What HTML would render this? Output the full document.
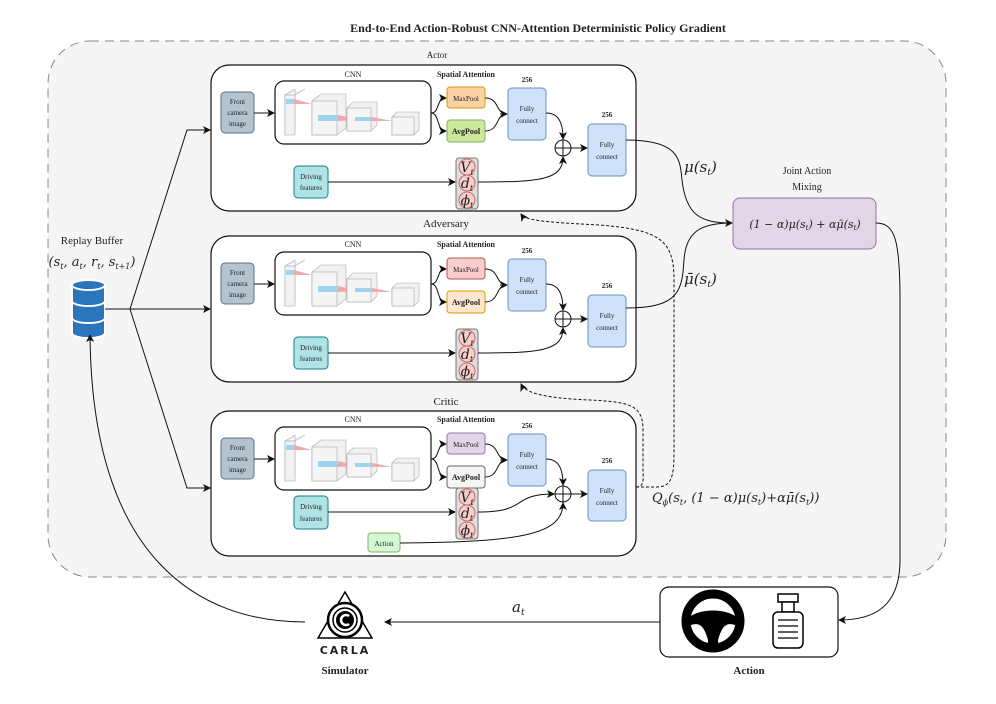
<!DOCTYPE html>
<html><head><meta charset="utf-8"><style>
html,body{margin:0;padding:0;background:#fff;}
svg{display:block;}
text{font-family:"Liberation Serif",serif;fill:#222;}
.s{font-size:7px;}
.m{font-family:"DejaVu Serif","Liberation Serif",serif;font-style:italic;}
</style></head><body>
<svg width="996" height="704" viewBox="0 0 996 704" xmlns="http://www.w3.org/2000/svg">
<defs>
<marker id="ar" markerWidth="8" markerHeight="8" refX="7" refY="4" orient="auto" markerUnits="userSpaceOnUse"><path d="M0,0 L8,4 L0,8 L2,4 Z" fill="#111"/></marker>
<g id="cnn">
  <rect x="275" y="81" width="156" height="63" rx="9" fill="#fff" stroke="#111" stroke-width="1.2"/>
  <path d="M285,95 l10,-6 v40 l-10,6 z M285,95 h10 l10,-6" fill="#eee" stroke="#aaa" stroke-width="0.6"/>
  <rect x="285" y="95" width="10" height="40" fill="#f2f2f2" stroke="#aaa" stroke-width="0.6"/>
  <rect x="286" y="99" width="8" height="5" fill="#9fd3f0"/>
  <path d="M294,99 L312,104 L294,104 Z" fill="#f2a9ae"/>
  <path d="M312,101 l9,-7 h25 v34 l-9,7 h-25 z" fill="#f1f1f1" stroke="#aaa" stroke-width="0.6"/>
  <rect x="312" y="101" width="25" height="34" fill="#f5f5f5" stroke="#aaa" stroke-width="0.6"/>
  <rect x="318" y="115" width="20" height="6" fill="#9fd3f0"/>
  <path d="M338,115 L360,120 L338,121 Z" fill="#f2a9ae"/>
  <path d="M347,108 l6,-6 h24 v23 l-6,6 h-24 z" fill="#f1f1f1" stroke="#aaa" stroke-width="0.6"/>
  <rect x="347" y="108" width="24" height="23" fill="#f5f5f5" stroke="#aaa" stroke-width="0.6"/>
  <rect x="355" y="117" width="17" height="4" fill="#9fd3f0"/>
  <path d="M372,117 L392,121 L372,121 Z" fill="#f2a9ae"/>
  <path d="M392,117 l5,-5 h22 v18 l-5,5 h-22 z" fill="#f1f1f1" stroke="#aaa" stroke-width="0.6"/>
  <rect x="392" y="117" width="22" height="18" fill="#f5f5f5" stroke="#aaa" stroke-width="0.6"/>
</g>
<g id="vdp">
  <rect x="456" y="0" width="22" height="51" rx="3" fill="#ddd" stroke="#777"/>
  <circle cx="467" cy="9" r="8" fill="#f8cecc" stroke="#b85450" stroke-width="0.8"/>
  <circle cx="467" cy="25" r="8" fill="#f8cecc" stroke="#b85450" stroke-width="0.8"/>
  <circle cx="467" cy="42" r="8" fill="#f8cecc" stroke="#b85450" stroke-width="0.8"/>
</g>
</defs>

<rect x="48" y="41" width="898" height="536" rx="42" fill="#f5f5f5" stroke="#888" stroke-dasharray="9,6" stroke-width="1"/>
<text x="538" y="32" text-anchor="middle" font-size="12" font-weight="bold">End-to-End Action-Robust CNN-Attention Deterministic Policy Gradient</text>

<!-- panels -->
<g id="actor">
<text x="437" y="58" text-anchor="middle" font-size="9">Actor</text>
<rect x="211" y="65" width="425" height="146" rx="18" fill="#fff" stroke="#111" stroke-width="1.2"/>
</g>
<text x="446" y="227" text-anchor="middle" font-size="11">Adversary</text>
<rect x="211" y="236" width="425" height="146" rx="18" fill="#fff" stroke="#111" stroke-width="1.2"/>
<text x="446" y="405" text-anchor="middle" font-size="11">Critic</text>
<rect x="211" y="411" width="425" height="145" rx="18" fill="#fff" stroke="#111" stroke-width="1.2"/>

<!-- common panel contents at offsets -->
<g>
<!-- ACTOR -->
<text x="353" y="77" text-anchor="middle" font-size="8">CNN</text>
<text x="466" y="77" text-anchor="middle" font-size="8" font-weight="bold">Spatial Attention</text>
<rect x="221" y="92" width="33" height="41" rx="4" fill="#b3c3d0" stroke="#5c7185"/>
<text x="237.5" y="104" text-anchor="middle" class="s">Front</text><text x="237.5" y="115" text-anchor="middle" class="s">camera</text><text x="237.5" y="126" text-anchor="middle" class="s">image</text>
<line x1="254" y1="113" x2="274" y2="113" stroke="#111" marker-end="url(#ar)"/>
<use href="#cnn"/>
<path d="M431,113 C440,113 436,98 446,98" fill="none" stroke="#111" marker-end="url(#ar)"/>
<path d="M431,113 C440,113 436,131 446,131" fill="none" stroke="#111" marker-end="url(#ar)"/>
<rect x="447" y="87" width="38" height="21" rx="3" fill="#fdd1a6" stroke="#d79b00"/>
<text x="466" y="101" text-anchor="middle" class="s">MaxPool</text>
<rect x="447" y="120" width="38" height="22" rx="3" fill="#cde79b" stroke="#82b366"/>
<text x="466" y="134" text-anchor="middle" font-size="8" font-weight="bold">AvgPool</text>
<path d="M485,98 C500,98 495,114 507,114 M485,131 C500,131 495,114 507,114" fill="none" stroke="#111"/>
<line x1="500" y1="114" x2="507" y2="114" stroke="#111" marker-end="url(#ar)"/>
<text x="527" y="82" text-anchor="middle" font-size="7" font-weight="bold">256</text>
<rect x="508" y="88" width="38" height="52" rx="4" fill="#cfe2fa" stroke="#6c8ebf"/>
<text x="527" y="111" text-anchor="middle" class="s">Fully</text><text x="527" y="123" text-anchor="middle" class="s">connect</text>
<path d="M546,113 C560,113 563,125 563,139" fill="none" stroke="#111" marker-end="url(#ar)"/>
<circle cx="563" cy="148" r="8" fill="#fff" stroke="#111"/>
<path d="M555,148 h16 M563,140 v16" stroke="#111"/>
<line x1="571" y1="148" x2="587" y2="148" stroke="#111" marker-end="url(#ar)"/>
<text x="607" y="117" text-anchor="middle" font-size="7" font-weight="bold">256</text>
<rect x="588" y="124" width="38" height="52" rx="4" fill="#cfe2fa" stroke="#6c8ebf"/>
<text x="607" y="147" text-anchor="middle" class="s">Fully</text><text x="607" y="159" text-anchor="middle" class="s">connect</text>
<rect x="294" y="166" width="34" height="32" rx="4" fill="#b0e3e6" stroke="#0e8088"/>
<text x="311" y="179" text-anchor="middle" class="s">Driving</text><text x="311" y="190" text-anchor="middle" class="s">features</text>
<line x1="328" y1="182" x2="455" y2="182" stroke="#111" marker-end="url(#ar)"/>
<use href="#vdp" y="158"/>
<text x="467" y="172" text-anchor="middle" font-size="14" class="m">V<tspan font-size="8" dy="3">t</tspan></text>
<text x="467" y="188" text-anchor="middle" font-size="14" class="m">d<tspan font-size="8" dy="3">t</tspan></text>
<text x="467" y="205" text-anchor="middle" font-size="14" class="m">ϕ<tspan font-size="8" dy="3">t</tspan></text>
<path d="M478,182 C540,182 563,180 563,157" fill="none" stroke="#111" marker-end="url(#ar)"/>
</g>

<g>
<!-- ADVERSARY -->
<text x="353" y="247" text-anchor="middle" font-size="8">CNN</text>
<text x="466" y="247" text-anchor="middle" font-size="8" font-weight="bold">Spatial Attention</text>
<rect x="221" y="263" width="33" height="41" rx="4" fill="#b3c3d0" stroke="#5c7185"/>
<text x="237.5" y="275" text-anchor="middle" class="s">Front</text><text x="237.5" y="286" text-anchor="middle" class="s">camera</text><text x="237.5" y="297" text-anchor="middle" class="s">image</text>
<line x1="254" y1="284" x2="274" y2="284" stroke="#111" marker-end="url(#ar)"/>
<use href="#cnn" y="171"/>
<path d="M431,284 C440,284 436,269 446,269" fill="none" stroke="#111" marker-end="url(#ar)"/>
<path d="M431,284 C440,284 436,302 446,302" fill="none" stroke="#111" marker-end="url(#ar)"/>
<rect x="447" y="258" width="38" height="21" rx="3" fill="#f8cecc" stroke="#b85450"/>
<text x="466" y="272" text-anchor="middle" class="s">MaxPool</text>
<rect x="447" y="291" width="38" height="22" rx="3" fill="#ffe6cc" stroke="#d79b00"/>
<text x="466" y="305" text-anchor="middle" font-size="8" font-weight="bold">AvgPool</text>
<path d="M485,269 C500,269 495,285 507,285 M485,302 C500,302 495,285 507,285" fill="none" stroke="#111"/>
<line x1="500" y1="285" x2="507" y2="285" stroke="#111" marker-end="url(#ar)"/>
<text x="527" y="253" text-anchor="middle" font-size="7" font-weight="bold">256</text>
<rect x="508" y="259" width="38" height="52" rx="4" fill="#cfe2fa" stroke="#6c8ebf"/>
<text x="527" y="282" text-anchor="middle" class="s">Fully</text><text x="527" y="294" text-anchor="middle" class="s">connect</text>
<path d="M546,284 C560,284 563,296 563,310" fill="none" stroke="#111" marker-end="url(#ar)"/>
<circle cx="563" cy="319" r="8" fill="#fff" stroke="#111"/>
<path d="M555,319 h16 M563,311 v16" stroke="#111"/>
<line x1="571" y1="319" x2="587" y2="319" stroke="#111" marker-end="url(#ar)"/>
<text x="607" y="288" text-anchor="middle" font-size="7" font-weight="bold">256</text>
<rect x="588" y="295" width="38" height="52" rx="4" fill="#cfe2fa" stroke="#6c8ebf"/>
<text x="607" y="318" text-anchor="middle" class="s">Fully</text><text x="607" y="330" text-anchor="middle" class="s">connect</text>
<rect x="294" y="337" width="34" height="32" rx="4" fill="#b0e3e6" stroke="#0e8088"/>
<text x="311" y="350" text-anchor="middle" class="s">Driving</text><text x="311" y="361" text-anchor="middle" class="s">features</text>
<line x1="328" y1="353" x2="455" y2="353" stroke="#111" marker-end="url(#ar)"/>
<use href="#vdp" y="329"/>
<text x="467" y="343" text-anchor="middle" font-size="14" class="m">V<tspan font-size="8" dy="3">t</tspan></text>
<text x="467" y="359" text-anchor="middle" font-size="14" class="m">d<tspan font-size="8" dy="3">t</tspan></text>
<text x="467" y="376" text-anchor="middle" font-size="14" class="m">ϕ<tspan font-size="8" dy="3">t</tspan></text>
<path d="M478,353 C540,353 563,351 563,328" fill="none" stroke="#111" marker-end="url(#ar)"/>
</g>

<g>
<!-- CRITIC -->
<text x="353" y="422" text-anchor="middle" font-size="8">CNN</text>
<text x="466" y="422" text-anchor="middle" font-size="8" font-weight="bold">Spatial Attention</text>
<rect x="221" y="438" width="33" height="41" rx="4" fill="#b3c3d0" stroke="#5c7185"/>
<text x="237.5" y="450" text-anchor="middle" class="s">Front</text><text x="237.5" y="461" text-anchor="middle" class="s">camera</text><text x="237.5" y="472" text-anchor="middle" class="s">image</text>
<line x1="254" y1="459" x2="274" y2="459" stroke="#111" marker-end="url(#ar)"/>
<use href="#cnn" y="346"/>
<path d="M431,459 C440,459 436,444 446,444" fill="none" stroke="#111" marker-end="url(#ar)"/>
<path d="M431,459 C440,459 436,477 446,477" fill="none" stroke="#111" marker-end="url(#ar)"/>
<rect x="447" y="433" width="38" height="21" rx="3" fill="#e1d5e7" stroke="#9673a6"/>
<text x="466" y="447" text-anchor="middle" class="s">MaxPool</text>
<rect x="447" y="466" width="38" height="22" rx="3" fill="#f5f5f5" stroke="#666"/>
<text x="466" y="480" text-anchor="middle" font-size="8" font-weight="bold">AvgPool</text>
<path d="M485,444 C500,444 495,460 507,460 M485,477 C500,477 495,460 507,460" fill="none" stroke="#111"/>
<line x1="500" y1="460" x2="507" y2="460" stroke="#111" marker-end="url(#ar)"/>
<text x="527" y="428" text-anchor="middle" font-size="7" font-weight="bold">256</text>
<rect x="508" y="434" width="38" height="52" rx="4" fill="#cfe2fa" stroke="#6c8ebf"/>
<text x="527" y="457" text-anchor="middle" class="s">Fully</text><text x="527" y="469" text-anchor="middle" class="s">connect</text>
<path d="M546,459 C560,459 563,471 563,485" fill="none" stroke="#111" marker-end="url(#ar)"/>
<circle cx="563" cy="494" r="8" fill="#fff" stroke="#111"/>
<path d="M555,494 h16 M563,486 v16" stroke="#111"/>
<line x1="571" y1="494" x2="587" y2="494" stroke="#111" marker-end="url(#ar)"/>
<text x="607" y="463" text-anchor="middle" font-size="7" font-weight="bold">256</text>
<rect x="588" y="470" width="38" height="51" rx="4" fill="#cfe2fa" stroke="#6c8ebf"/>
<text x="607" y="493" text-anchor="middle" class="s">Fully</text><text x="607" y="505" text-anchor="middle" class="s">connect</text>
<rect x="294" y="496" width="34" height="33" rx="4" fill="#b0e3e6" stroke="#0e8088"/>
<text x="311" y="509" text-anchor="middle" class="s">Driving</text><text x="311" y="521" text-anchor="middle" class="s">features</text>
<line x1="328" y1="512" x2="455" y2="512" stroke="#111" marker-end="url(#ar)"/>
<use href="#vdp" y="488"/>
<text x="467" y="502" text-anchor="middle" font-size="14" class="m">V<tspan font-size="8" dy="3">t</tspan></text>
<text x="467" y="518" text-anchor="middle" font-size="14" class="m">d<tspan font-size="8" dy="3">t</tspan></text>
<text x="467" y="535" text-anchor="middle" font-size="14" class="m">ϕ<tspan font-size="8" dy="3">t</tspan></text>
<path d="M478,512 C530,512 510,494 554,494" fill="none" stroke="#111" marker-end="url(#ar)"/>
<rect x="368" y="533" width="32" height="19" rx="3" fill="#d5f7d3" stroke="#82b366"/>
<text x="384" y="546" text-anchor="middle" class="s">Action</text>
<path d="M400,543 C520,542 563,535 563,503" fill="none" stroke="#111" marker-end="url(#ar)"/>
</g>

<!-- replay buffer -->
<text x="92" y="244" text-anchor="middle" font-size="11">Replay Buffer</text>
<text x="92" y="266" text-anchor="middle" font-size="13" class="m">(s<tspan font-size="8" dy="3">t</tspan><tspan dy="-3">, a</tspan><tspan font-size="8" dy="3">t</tspan><tspan dy="-3">, r</tspan><tspan font-size="8" dy="3">t</tspan><tspan dy="-3">, s</tspan><tspan font-size="8" dy="3">t+1</tspan><tspan dy="-3">)</tspan></text>
<g fill="#2a75bb" stroke="#fff" stroke-width="2">
<path d="M72,318 v15 a16.5,5 0 0 0 33,0 v-15 z"/>
<path d="M72,301 v17 a16.5,5 0 0 0 33,0 v-17 z"/>
<path d="M72,285 v16 a16.5,5 0 0 0 33,0 v-16 z"/>
<ellipse cx="88.5" cy="285" rx="16.5" ry="5"/>
</g>
<path d="M105,309 H130 L187,130 H210" fill="none" stroke="#111" marker-end="url(#ar)"/>
<line x1="130" y1="309" x2="210" y2="309" stroke="#111" marker-end="url(#ar)"/>
<path d="M130,309 L187,488 H210" fill="none" stroke="#111" marker-end="url(#ar)"/>

<!-- outputs -->
<path d="M626,140 C680,140 680,160 682,180 C686,215 700,223 732,223" fill="none" stroke="#111" marker-end="url(#ar)"/>
<path d="M626,308 C680,308 682,290 684,260 C686,232 700,223 732,223" fill="none" stroke="#111"/>
<text x="684" y="172" font-size="15" class="m">μ(s<tspan font-size="9" dy="3">t</tspan><tspan dy="-3">)</tspan></text>
<text x="684" y="284" font-size="15" class="m">μ̄(s<tspan font-size="9" dy="3">t</tspan><tspan dy="-3">)</tspan></text>
<text x="807" y="174" text-anchor="middle" font-size="10">Joint Action</text>
<text x="807" y="190" text-anchor="middle" font-size="10">Mixing</text>
<rect x="733" y="198" width="143" height="51" rx="7" fill="#e1d5e7" stroke="#9673a6"/>
<text x="805" y="228" text-anchor="middle" font-size="11" class="m">(1 − α)μ(s<tspan font-size="7" dy="2">t</tspan><tspan dy="-2">) + αμ̄(s</tspan><tspan font-size="7" dy="2">t</tspan><tspan dy="-2">)</tspan></text>
<text x="652" y="502" font-size="13" class="m">Q<tspan font-size="8" dy="3">ϕ</tspan><tspan dy="-3">(s</tspan><tspan font-size="8" dy="3">t</tspan><tspan dy="-3">, (1 − α)μ(s</tspan><tspan font-size="8" dy="3">t</tspan><tspan dy="-3">)+αμ̄(s</tspan><tspan font-size="8" dy="3">t</tspan><tspan dy="-3">))</tspan></text>

<!-- dashed feedback -->
<path d="M636,487 H657 C675,487 674,470 674,440 V280 C674,240 660,230 600,225 C540,222 525,220 521,214" fill="none" stroke="#111" stroke-dasharray="3,2" marker-end="url(#ar)"/>
<path d="M636,487 C645,487 643,480 643,465 V430 C643,405 630,402 590,400 C540,398 525,392 521,384" fill="none" stroke="#111" stroke-dasharray="3,2" marker-end="url(#ar)"/>

<!-- to action -->
<path d="M876,223 C895,223 900,240 900,300 V560 C900,610 870,620 839,620" fill="none" stroke="#111" marker-end="url(#ar)"/>
<rect x="660" y="587" width="178" height="70" rx="9" fill="#fff" stroke="#111" stroke-width="1.2"/>
<circle cx="713" cy="621" r="27" fill="none" stroke="#000" stroke-width="9"/>
<path d="M688,618 C700,608 726,608 738,618 L735,625 C726,622 722,626 718,640 V648 H708 V640 C704,626 700,622 691,625 Z" fill="#000"/>
<g fill="#fff" stroke="#000" stroke-width="1.5">
<rect x="778" y="594" width="20" height="8"/>
<rect x="782" y="602" width="12" height="10"/>
<rect x="773" y="612" width="30" height="36" rx="5"/>
</g>
<path d="M778,620 h20 M778,626 h20 M778,632 h20 M778,638 h20" stroke="#000" stroke-width="1.3"/>
<text x="749" y="674" text-anchor="middle" font-size="11" font-weight="bold">Action</text>
<line x1="660" y1="622" x2="385" y2="622" stroke="#111" marker-end="url(#ar)"/>
<text x="512" y="612" font-size="15" class="m">a<tspan font-size="9" dy="3">t</tspan></text>

<!-- CARLA -->
<path d="M345,592 L372,638 H318 Z" fill="none" stroke="#000" stroke-width="1.5"/>
<circle cx="345" cy="620" r="17" fill="#fff" stroke="#000" stroke-width="2.5"/>
<circle cx="345" cy="620" r="12" fill="#fff" stroke="#000" stroke-width="1.5"/>
<circle cx="345" cy="620" r="9" fill="#000"/>
<path d="M349,616 A5,5 0 1 0 349,624" fill="none" stroke="#fff" stroke-width="2.5"/>
<text x="345" y="654" text-anchor="middle" font-family="DejaVu Sans,sans-serif" font-size="11" font-weight="bold" letter-spacing="2" style="font-family:'DejaVu Sans',sans-serif">CARLA</text>
<text x="345" y="674" text-anchor="middle" font-size="11" font-weight="bold">Simulator</text>
<path d="M305,622 C200,622 92,560 90,335" fill="none" stroke="#111" marker-end="url(#ar)"/>
</svg>
</body></html>
